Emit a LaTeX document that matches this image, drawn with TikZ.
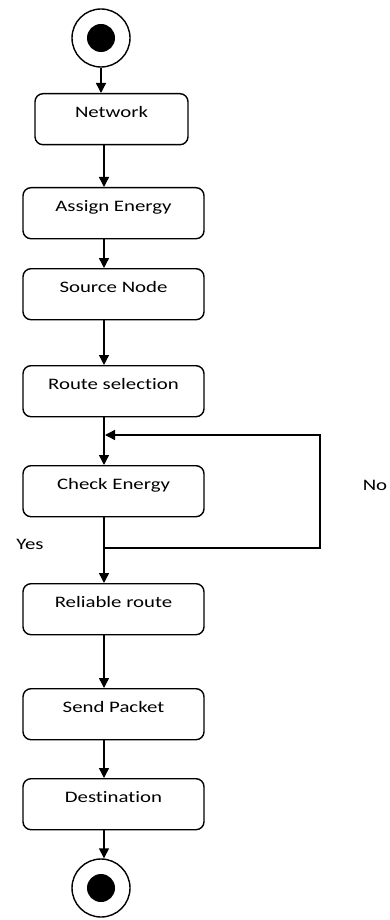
\documentclass[tikz,border=0pt]{standalone}
\usepackage{fontspec}
\setmainfont{Carlito}[FakeStretch=1.3,Ligatures=NoCommon]
\usetikzlibrary{arrows.meta}
\tikzset{
  act/.style={draw,line width=1.4pt,rounded corners=8pt,minimum width=181pt,
    inner sep=0pt,text height=24pt,text depth=27pt,anchor=north,
    font=\fontsize{16}{19}\selectfont},
  flow/.style={line width=1.4pt,-{Triangle[width=10pt,length=10pt]}},
  lbl/.style={font=\fontsize{16}{19}\selectfont}
}
\begin{document}
\begin{tikzpicture}[x=1pt,y=-1pt]
\useasboundingbox (0,0) rectangle (389,920);
\coordinate (spine) at (104,0);
\node[circle,draw,line width=1.4pt,minimum size=58pt,inner sep=0pt] (start) at (101,38) {};
\fill (start) circle (14);
\node[act,minimum width=153pt] (net) at (111.5,93) {Network};
\node[act] (asg) at (113.5,187) {Assign Energy};
\node[act] (src) at (113.5,268) {Source Node};
\node[act] (rte) at (113.5,365) {Route selection};
\node[act] (chk) at (113.5,465) {Check Energy};
\node[act] (rel) at (113.5,583) {Reliable route};
\node[act] (snd) at (113.5,688) {Send Packet};
\node[act] (dst) at (113.5,778) {Destination};
\node[circle,draw,line width=1.4pt,minimum size=58pt,inner sep=0pt] (stop) at (101,888) {};
\fill (stop) circle (14);
\draw[flow] (start.south) -- (start.south |- net.north);
\draw[flow] (net.south -| spine) -- (asg.north -| spine);
\draw[flow] (asg.south -| spine) -- (src.north -| spine);
\draw[flow] (src.south -| spine) -- (rte.north -| spine);
\draw[flow] (rte.south -| spine) -- (chk.north -| spine);
\draw[flow] (chk.south -| spine) -- (rel.north -| spine);
\draw[flow] (rel.south -| spine) -- (snd.north -| spine);
\draw[flow] (snd.south -| spine) -- (dst.north -| spine);
\draw[flow] (dst.south -| spine) -- (stop.north -| spine);
\coordinate (yes) at (104,548);
\coordinate (noturn) at (320,548);
\coordinate (back) at (320,435);
\coordinate (join) at (105,435);
\draw[flow] (yes) -- (noturn) -- (back) -- (join);
\node[lbl] (yeslbl) at (30,544) {Yes};
\node[lbl] (nolbl) at (375,485) {No};
\end{tikzpicture}
\end{document}
